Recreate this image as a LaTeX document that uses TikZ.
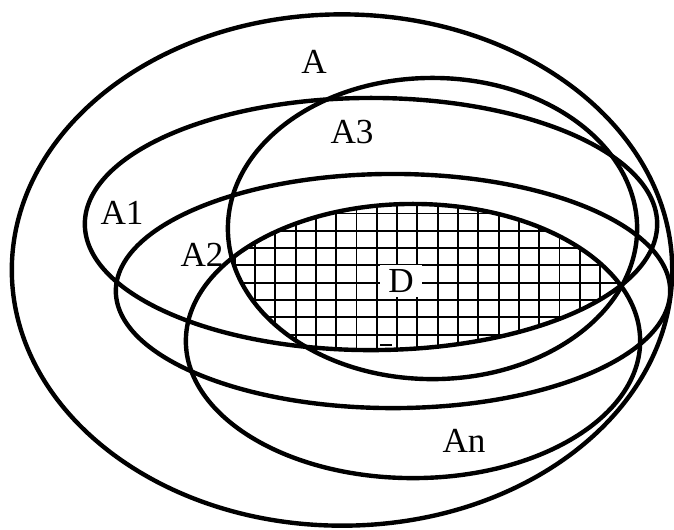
\documentclass[tikz,border=0pt]{standalone}
\usepackage{fontspec}
\setmainfont{Liberation Serif}
\begin{document}
\begin{tikzpicture}[x=0.01cm,y=-0.01cm,
  setline/.style={line width=1.25pt},
  gridline/.style={line width=0.55pt},
  lbl/.style={inner sep=0pt,font=\fontsize{10}{12}\selectfont}]
\useasboundingbox (0,0) rectangle (674,529);
% hatched region D
\begin{scope}
  \clip (413,341) ellipse [x radius=2.27cm, y radius=1.37cm];
  \clip (432.5,228.5) ellipse [x radius=2.045cm, y radius=1.505cm];
  \clip (371,224) ellipse [x radius=2.86cm, y radius=1.26cm];
  \foreach \i in {0,...,19}
    \draw[gridline] ({234.7+20.3*\i},190) -- ({234.7+20.3*\i},360);
  \foreach \j in {0,...,9}
    \draw[gridline] (220,{196.2+17.3*\j}) -- (640,{196.2+17.3*\j});
\end{scope}
\draw[line width=0.7pt] (380,345) -- (392,345);
% sets
\draw[setline] (342,270) ellipse [x radius=3.30cm, y radius=2.555cm];
\draw[setline] (371,224) ellipse [x radius=2.86cm, y radius=1.26cm];
\draw[setline] (432.5,228.5) ellipse [x radius=2.045cm, y radius=1.505cm];
\draw[setline] (393,291) ellipse [x radius=2.77cm, y radius=1.17cm];
\draw[setline] (413,341) ellipse [x radius=2.27cm, y radius=1.37cm];
% labels
\node[lbl] (lA)  at (314,62)  {A};
\node[lbl] (lA3) at (352,132) {A3};
\node[lbl] (lA1) at (122,213) {A1};
\node[lbl] (lA2) at (202,255) {A2};
\node[lbl,fill=white,minimum width=0.42cm,minimum height=0.32cm] (lD) at (401,281) {D};
\node[lbl] (lAn) at (464,441) {An};
\end{tikzpicture}
\end{document}
